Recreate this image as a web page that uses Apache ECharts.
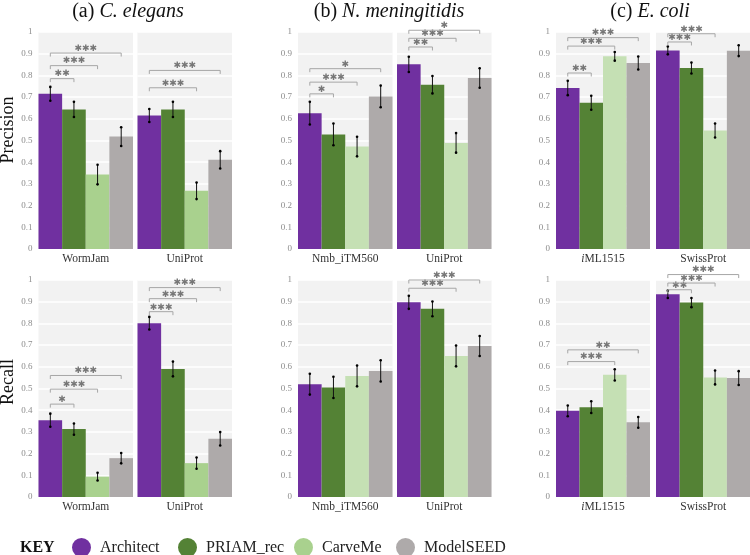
<!DOCTYPE html>
<html><head><meta charset="utf-8">
<script src="https://cdn.jsdelivr.net/npm/echarts/dist/echarts.min.js"></script>
<style>html,body{margin:0;padding:0;background:#fff}#c{width:750px;height:555px}</style>
</head><body><div id="c"></div>
<script>
// ---------------- data ----------------
const methods = ['Architect', 'PRIAM_rec', 'CarveMe', 'ModelSEED'];
const panelLetters = ['(a) ', '(b) ', '(c) '];
const panelOrganisms = ['C. elegans', 'N. meningitidis', 'E. coli'];
const facetNames = ['WormJam', 'UniProt', 'Nmb_iTM560', 'UniProt', '{i|i}ML1515', 'SwissProt'];
const rowNames = ['Precision', 'Recall'];

const precision = [
  [0.715, 0.643, 0.343, 0.518],
  [0.615, 0.643, 0.268, 0.411],
  [0.626, 0.528, 0.472, 0.703],
  [0.851, 0.757, 0.489, 0.788],
  [0.742, 0.674, 0.888, 0.857],
  [0.915, 0.834, 0.546, 0.914]
];
const precisionErr = [
  [0.032, 0.035, 0.045, 0.043],
  [0.030, 0.035, 0.038, 0.040],
  [0.052, 0.050, 0.045, 0.050],
  [0.035, 0.040, 0.045, 0.045],
  [0.033, 0.032, 0.020, 0.030],
  [0.018, 0.025, 0.032, 0.025]
];
const recall = [
  [0.354, 0.313, 0.094, 0.179],
  [0.801, 0.590, 0.156, 0.268],
  [0.520, 0.505, 0.558, 0.581],
  [0.897, 0.867, 0.650, 0.696],
  [0.397, 0.414, 0.563, 0.344],
  [0.934, 0.896, 0.551, 0.548]
];
const recallErr = [
  [0.030, 0.026, 0.018, 0.024],
  [0.029, 0.034, 0.026, 0.031],
  [0.048, 0.049, 0.048, 0.049],
  [0.030, 0.034, 0.048, 0.046],
  [0.025, 0.027, 0.026, 0.025],
  [0.017, 0.021, 0.032, 0.032]
];
// significance vs Architect: [compared method index, bracket height, number of stars]
const precisionSig = [
  [[1, 0.785, 2], [2, 0.845, 3], [3, 0.903, 3]],
  [[2, 0.743, 3], [3, 0.823, 3]],
  [[1, 0.715, 1], [2, 0.769, 3], [3, 0.831, 1]],
  [[1, 0.931, 2], [2, 0.971, 3], [3, 1.008, 1]],
  [[1, 0.811, 2], [2, 0.935, 3], [3, 0.974, 3]],
  [[1, 0.954, 3], [2, 0.992, 3]]
];
const recallSig = [
  [[1, 0.428, 1], [2, 0.497, 3], [3, 0.560, 3]],
  [[1, 0.854, 3], [2, 0.914, 3], [3, 0.965, 3]],
  [],
  [[2, 0.962, 3], [3, 1.000, 3]],
  [[2, 0.624, 3], [3, 0.678, 2]],
  [[1, 0.955, 2], [2, 0.986, 3], [3, 1.025, 3]]
];

// ---------------- styles / layout ----------------
const SERIF = 'Liberation Serif';
const colorsA = ['#7030A0', '#548235', '#A9D18E', '#AEAAAA'];
const colorsBC = ['#7030A0', '#548235', '#C5E0B4', '#AEAAAA'];
const facetX = [[38.5, 133], [137.5, 232], [298, 392.5], [397, 491.5], [556, 650], [656, 750.5]];
const rowY = [[32, 249], [280, 497]];
const titleX = [128, 389, 650];
const rowNameY = [130, 382];
const legendX = [72, 178, 294, 396];

const rowValues = [precision, recall];
const rowErrs = [precisionErr, recallErr];
const rowSigs = [precisionSig, recallSig];

const grid = [], xAxis = [], yAxis = [], series = [];
for (let r = 0; r < 2; r++) {
  for (let f = 0; f < 6; f++) {
    const idx = r * 6 + f;
    const panel = Math.floor(f / 2);
    const cols = panel === 0 ? colorsA : colorsBC;
    grid.push({
      left: facetX[f][0], top: rowY[r][0],
      width: facetX[f][1] - facetX[f][0], height: rowY[r][1] - rowY[r][0],
      show: true, backgroundColor: '#F2F2F2', borderWidth: 0,
      containLabel: false, outerBoundsMode: 'none'
    });
    xAxis.push({
      gridIndex: idx, type: 'category', data: methods,
      axisLabel: { show: false }, axisTick: { show: false },
      axisLine: { show: false }, splitLine: { show: false },
      name: facetNames[f], nameLocation: 'middle', nameGap: 4,
      nameTextStyle: {
        fontFamily: SERIF, fontSize: 11.5, color: '#333',
        rich: { i: { fontFamily: SERIF, fontSize: 11.5, color: '#333', fontStyle: 'italic' } }
      }
    });
    const showLabels = f % 2 === 0;
    yAxis.push({
      gridIndex: idx, type: 'value', min: 0, max: 1, interval: 0.1,
      axisLabel: {
        show: showLabels, fontFamily: SERIF, fontSize: 9, color: '#8c8c8c', margin: 6,
        formatter: v => String(Math.round(v * 10) / 10)
      },
      axisLine: { show: false }, axisTick: { show: false },
      splitLine: { show: true, lineStyle: { color: '#ffffff', width: 1.5 } }
    });
    // bars
    series.push({
      type: 'bar', xAxisIndex: idx, yAxisIndex: idx,
      barCategoryGap: '0%', barGap: '0%', silent: true,
      data: rowValues[r][f].map((v, i) => ({ value: v, itemStyle: { color: cols[i] } })),
      z: 2
    });
    // error bars
    series.push({
      type: 'custom', xAxisIndex: idx, yAxisIndex: idx, silent: true, z: 4,
      data: rowValues[r][f].map((v, i) => [i, v, rowErrs[r][f][i]]),
      renderItem: (params, api) => {
        const x = api.value(0), v = api.value(1), e = api.value(2);
        const lo = api.coord([x, v - e]), hi = api.coord([x, v + e]);
        return { type: 'group', children: [
          { type: 'line', shape: { x1: lo[0], y1: lo[1], x2: hi[0], y2: hi[1] }, style: { stroke: '#111', lineWidth: 1 } },
          { type: 'circle', shape: { cx: lo[0], cy: lo[1], r: 1.3 }, style: { fill: '#000' } },
          { type: 'circle', shape: { cx: hi[0], cy: hi[1], r: 1.3 }, style: { fill: '#000' } }
        ] };
      }
    });
    // significance brackets
    if (rowSigs[r][f].length) {
      series.push({
        type: 'custom', xAxisIndex: idx, yAxisIndex: idx, silent: true, z: 5, clip: false,
        data: rowSigs[r][f].map(s => [s[0], s[1], s[2]]),
        renderItem: (params, api) => {
          const j = api.value(0), h = api.value(1), n = api.value(2);
          const a = api.coord([0, h]), b = api.coord([j, h]);
          return { type: 'group', children: [
            { type: 'polyline', shape: { points: [[a[0], a[1] + 3.5], [a[0], a[1]], [b[0], b[1]], [b[0], b[1] + 3.5]] },
              style: { stroke: '#a6a6a6', lineWidth: 1, fill: null } },
            { type: 'text', x: (a[0] + b[0]) / 2, y: a[1] - 4.5,
              style: { text: '\u2731'.repeat(n), fill: '#777777', font: '9px "DejaVu Sans"',
                align: 'center', verticalAlign: 'middle', textAlign: 'center', textVerticalAlign: 'middle' } }
          ] };
        }
      });
    }
  }
}
// legend entries
methods.forEach((m, i) => {
  series.push({ type: 'line', name: m, xAxisIndex: 0, yAxisIndex: 0, data: [], color: colorsA[i], itemStyle: { color: colorsA[i] } });
});
const legend = methods.map((m, i) => ({
  data: [m], left: legendX[i], top: 538, icon: 'circle', itemWidth: 19, itemHeight: 19,
  selectedMode: false, padding: 0,
  textStyle: { fontFamily: SERIF, fontSize: 16, color: '#222', padding: [0, 0, 0, 4] }
}));

const graphic = [];
for (let p = 0; p < 3; p++) {
  graphic.push({
    type: 'text', x: titleX[p], y: 12,
    style: {
      text: '{n|' + panelLetters[p] + '}{i|' + panelOrganisms[p] + '}',
      align: 'center', verticalAlign: 'middle', textAlign: 'center', textVerticalAlign: 'middle',
      rich: {
        n: { fontFamily: SERIF, fontSize: 20, fill: '#111', color: '#111' },
        i: { fontFamily: SERIF, fontSize: 20, fontStyle: 'italic', fill: '#111', color: '#111' }
      }
    }
  });
}
for (let r = 0; r < 2; r++) {
  graphic.push({
    type: 'text', x: 8, y: rowNameY[r], rotation: Math.PI / 2,
    style: { text: rowNames[r], font: '18px "Liberation Serif"', fill: '#111',
      align: 'center', verticalAlign: 'middle', textAlign: 'center', textVerticalAlign: 'middle' }
  });
}
graphic.push({
  type: 'text', x: 20, y: 547.5,
  style: { text: 'KEY', font: 'bold 16px "Liberation Serif"', fill: '#111', verticalAlign: 'middle', textVerticalAlign: 'middle' }
});

const chart = echarts.init(document.getElementById('c'), null, { renderer: 'canvas' });
chart.setOption({
  animation: false,
  backgroundColor: '#fff',
  grid, xAxis, yAxis, series, legend, graphic
});
</script></body></html>
